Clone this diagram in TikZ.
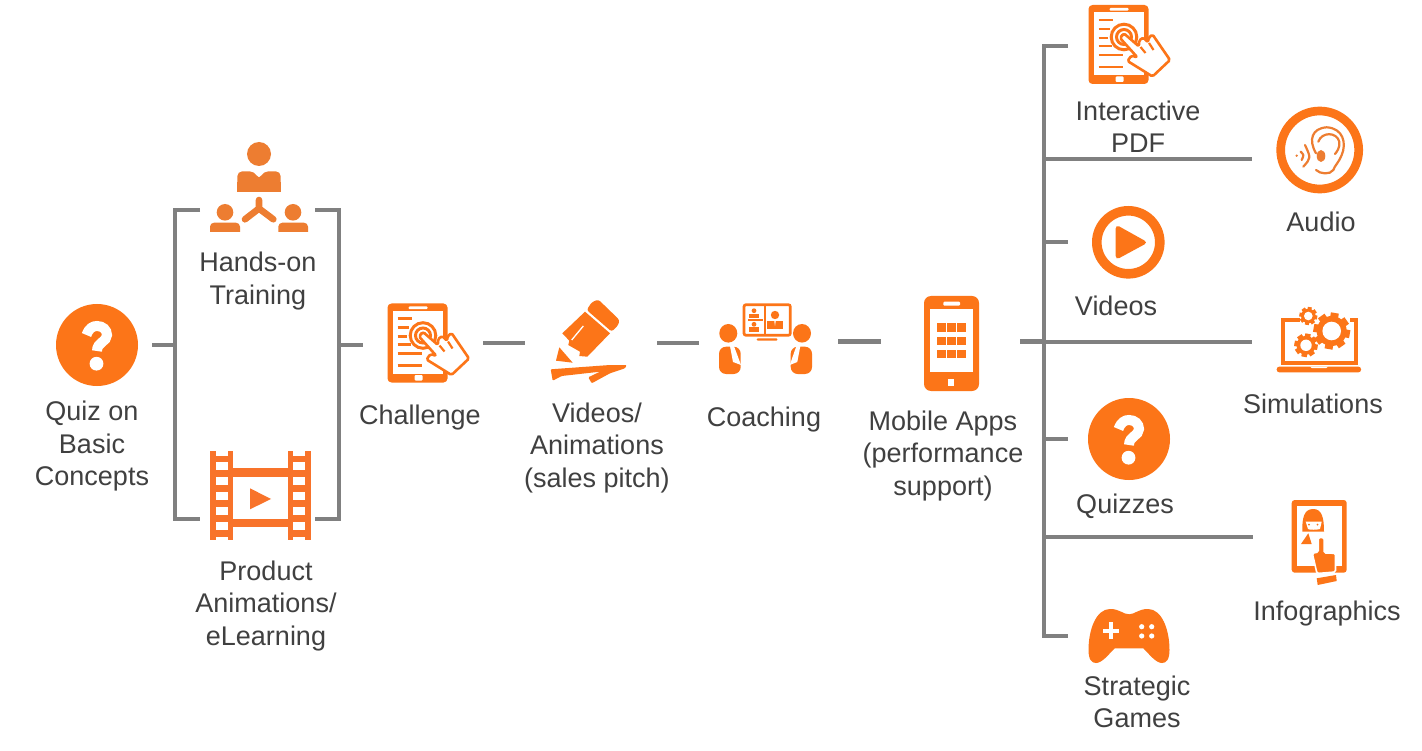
\documentclass[tikz,border=0pt]{standalone}
\usepackage{fontspec}
\setmainfont{Liberation Sans}
\definecolor{iconorange}{HTML}{FC7518}
\definecolor{softorange}{HTML}{ED7D31}
\definecolor{filmorange}{HTML}{F8732A}
\definecolor{linegray}{HTML}{808080}
\definecolor{labelgray}{HTML}{404040}
\newcommand{\tabletHand}[2]{%
\begin{scope}[shift={(#1,#2)}]
\fill[iconorange,rounded corners=4] (0,0) rectangle (60,79);
\fill[white] (5,7.5) rectangle (55,70);
\fill[white,rounded corners=1] (21,3) rectangle (40,5.6);
\fill[white,rounded corners=1] (27,71.5) rectangle (35,77);
\foreach \yy/\xx in {15/24,24/21,33/19,41/23,50/34,62/34}
  \draw[iconorange,line width=2.2] (10,\yy) -- (\xx,\yy);
\draw[iconorange,line width=3] (35.5,32) circle (12.8);
\draw[iconorange,line width=3] (35.5,32) circle (7.5);
\fill[iconorange] (35.5,32) circle (4);
\draw[iconorange,line width=2.6,fill=white,line join=round,rounded corners=1.6]
 (31.5,33) -- (35.5,28.5) -- (50.5,41.5) -- (50.5,35.5) -- (55,32.5) -- (59.5,37.5) -- (60,33) -- (64,29.5)
 -- (81.5,55) -- (64,71.5) -- (39,56) -- (43,50.5) -- (49,52.5) -- cycle;
\draw[iconorange,line width=2.2] (52,42) -- (57,48) (60.5,38) -- (65,45);
\end{scope}}
\newcommand{\qmark}[2]{%
\begin{scope}[shift={(#1,#2)}]
\fill[iconorange] (0,0) circle (41);
\draw[white,line width=10] (-10.5,-10) .. controls (-8,-17) and (-4,-19) .. (0,-19)
 .. controls (6,-19) and (10,-15) .. (10,-10) .. controls (10,-3) and (0,-3) .. (0,6);
\fill[white] (-0.5,18.7) circle (6.9);
\end{scope}}
\tikzset{
 x=1pt,y=-1pt,
 link/.style={draw=linegray,line width=4.8pt,line join=miter},
 iconbox/.style={inner sep=0pt,outer sep=0pt,minimum height=30pt},
 lbl/.style={inner sep=0pt,outer sep=0pt,text=labelgray,align=center,font=\fontsize{27}{32.5}\selectfont},
}
\begin{document}
\begin{tikzpicture}[line cap=butt]
\useasboundingbox (0,0) rectangle (1422,751);
\fill[white] (0,0) rectangle (1422,751);
% invisible icon boxes
\node[iconbox,minimum width=110pt] (quizicon) at (97,345) {};
\node[iconbox,minimum width=115pt] (handsicon) at (257.5,210) {};
\node[iconbox,minimum width=115pt] (filmicon) at (257.5,519) {};
\node[iconbox,minimum width=120pt] (challengeicon) at (423,343) {};
\node[iconbox,minimum width=132pt] (penicon) at (591,343) {};
\node[iconbox,minimum width=139pt] (coachicon) at (768.5,341.5) {};
\node[iconbox,minimum width=139pt] (phoneicon) at (950.5,341.5) {};
\node[iconbox,minimum width=122pt] (pdficon) at (1129,46) {};
\node[iconbox,minimum width=122pt] (playicon) at (1129,242) {};
\node[iconbox,minimum width=122pt] (qzicon) at (1129,439) {};
\node[iconbox,minimum width=122pt] (gameicon) at (1129,636) {};
\node[iconbox,minimum width=136pt] (earicon) at (1320,159) {};
\node[iconbox,minimum width=136pt] (simicon) at (1320,342) {};
\node[iconbox,minimum width=136pt] (infoicon) at (1321,537) {};
\coordinate (lefttop) at (175,210);
\coordinate (leftbot) at (175,519);
\coordinate (leftmid) at (175,345);
\coordinate (righttop) at (339,210);
\coordinate (rightbot) at (339,519);
\coordinate (rightmid) at (339,345);
\coordinate (trunktop) at (1044,46);
\coordinate (trunkbot) at (1044,636);
\coordinate (trunkplay) at (1044,242);
\coordinate (trunkqz) at (1044,439);
\coordinate (trunkear) at (1044,159);
\coordinate (trunksim) at (1044,342);
\coordinate (trunkinfo) at (1044,537);
% connectors
\draw[link] (handsicon.west) -- (lefttop) -- (leftbot) -- (filmicon.west);
\draw[link] (handsicon.east) -- (righttop) -- (rightbot) -- (filmicon.east);
\draw[link] (quizicon.east) -- (leftmid);
\draw[link] (rightmid) -- (rightmid -| challengeicon.west);
\draw[link] (challengeicon.east) -- (penicon.west);
\draw[link] (penicon.east) -- (coachicon.west |- penicon.east);
\draw[link] (coachicon.east) -- (phoneicon.west);
\draw[link] (phoneicon.east) -- (phoneicon.east -| trunksim);
\draw[link] (pdficon.west) -- (trunktop) -- (trunkbot) -- (gameicon.west);
\draw[link] (trunkplay) -- (playicon.west);
\draw[link] (trunkqz) -- (qzicon.west);
\draw[link] (trunkear) -- (earicon.west);
\draw[link] (trunksim) -- (simicon.west);
\draw[link] (trunkinfo) -- (infoicon.west);
% quiz icons
\qmark{97}{345}
\qmark{1129}{439}
% hands-on
\fill[softorange] (259,154) circle (12);
\fill[softorange,rounded corners=5] (237.3,192) -- (237.3,171.3) -- (254.5,171.3) -- (259,180) -- (263.5,171.3) -- (280.7,171.3) -- (280.7,192) -- cycle;
\fill[softorange] (237.3,182) rectangle (280.7,192);
\foreach \hx in {225,293} \fill[softorange] (\hx,212.3) circle (8.3);
\fill[softorange,rounded corners=4] (210,236) -- (210,222.7) -- (240,222.7) -- (240,236) -- cycle;
\fill[softorange,rounded corners=4] (278.3,236) -- (278.3,222.7) -- (308,222.7) -- (308,236) -- cycle;
\fill[white] (205,232) rectangle (313,238);
\draw[softorange,line width=6.6,line cap=round,line join=round] (259,200) -- (259,208.5) (245,219.3) -- (259,208.5) -- (273.3,219.3);
% film
\fill[filmorange] (210,451) rectangle (232.7,540);
\fill[filmorange] (288.3,451) rectangle (310.7,540);
\fill[filmorange] (232.7,468.3) rectangle (288.3,476.7);
\fill[filmorange] (232.7,519.3) rectangle (288.3,527.3);
\foreach \fx in {215.7,293.3}{
 \fill[white] (\fx,451) rectangle ++(12,4.5);
 \foreach \fy in {462.3,476.7,491.7,506.7,521.7}
  \fill[white] (\fx,\fy) rectangle ++(12,7.8);
 \fill[white] (\fx,536.7) rectangle ++(12,3.3);
}
\fill[filmorange] (250,488.3) -- (271,499) -- (250,509.3) -- cycle;
% challenge and interactive pdf
\tabletHand{387.5}{303.5}
\tabletHand{1088.5}{5}
% pencil
\fill[iconorange,rounded corners=2.5] (591.7,302.3) -- (598.3,299.5) -- (619.5,320) -- (618.3,325) -- (611.7,331.7) -- (586.7,310) -- cycle;
\fill[iconorange] (585,311.7) -- (610,333.3) -- (587.3,356.7) -- (579.3,356) -- (580,351.7) -- (568.3,345) -- (569.3,340.7) -- (562.3,333.3) -- cycle;
\draw[white,line width=1.3] (571.7,340) -- (583.3,326);
\fill[iconorange] (559.3,347.3) -- (572.7,362.7) -- (556,360.7) -- cycle;
\fill[iconorange,rounded corners=1] (550.7,369.3) -- (610,365) -- (626.7,365) -- (625,368.3) -- (610,373.3) -- (591.7,383.3) -- (588.3,377.3) -- (600,371.7) -- (561.7,376) -- (552.7,380.7) -- cycle;
% coaching
\draw[iconorange,line width=2.7,rounded corners=2] (744,304.7) rectangle (790.3,335.3);
\fill[iconorange] (764.2,306) rectangle (765.8,334);
\fill[iconorange] (748.3,319.3) rectangle (763.3,320.7);
\fill[iconorange,rounded corners=1] (756.7,338.3) rectangle (777.3,340.7);
\fill[iconorange] (754,310.7) circle (2.4);
\fill[iconorange] (749.3,318.5) rectangle (759.3,314);
\fill[iconorange] (754,324.3) circle (2.4);
\fill[iconorange] (749.3,332.3) rectangle (759.3,327);
\fill[iconorange] (775,315) circle (4.2);
\fill[iconorange] (767.3,329) rectangle (782.7,320.7);
\fill[white] (774.2,320.7) -- (775.8,320.7) -- (775,326) -- cycle;
\fill[iconorange] (728.3,333.3) ellipse (9 and 9.3);
\fill[iconorange,rounded corners=7] (719,346.7) rectangle (740.7,374);
\fill[white] (730,346.2) -- (734,346.2) -- (741,365) -- (733,362) -- cycle;
\fill[iconorange] (802,333.3) ellipse (9 and 9.3);
\fill[iconorange,rounded corners=7] (790.7,346.7) rectangle (812,374);
\fill[white] (800.3,346.2) -- (796.3,346.2) -- (789.8,365) -- (797.3,362) -- cycle;
% phone
\fill[iconorange,rounded corners=7] (924,296) rectangle (979,391);
\fill[white] (930,309.3) rectangle (973.3,372.3);
\fill[white,rounded corners=1] (943.3,301.7) rectangle (960,305.7);
\fill[white] (948.3,379) rectangle (954.3,385.7);
\foreach \gx in {937.3,947.3,957.3}\foreach \gy in {323.3,336.7,350}
 \fill[iconorange] (\gx,\gy) rectangle ++(8.4,8.4);
% audio
\draw[iconorange,line width=8.7] (1319.7,150) circle (39);
\begin{scope}[softorange,line width=2.2,line cap=round]
\draw (1316,153.3) .. controls (1308.3,140) and (1311.7,128.3) .. (1326.7,127.3)
 .. controls (1343.3,128.3) and (1346.7,143.3) .. (1341.7,155)
 .. controls (1338.3,163.3) and (1335,165) .. (1333.3,170)
 .. controls (1330,175) and (1320,174) .. (1316,170);
\draw (1318.3,141.7) .. controls (1321.7,131.7) and (1336.7,131.7) .. (1339.3,141.7)
 .. controls (1340,148.3) and (1336.7,151.7) .. (1335,154);
\draw (1305,145) .. controls (1311,158) .. (1303.3,166.7);
\draw (1300.7,151.7) .. controls (1304,155) .. (1301.7,160);
\fill (1321,156) ellipse (4.3 and 6);
\fill (1296.7,155.7) circle (1.3);
\end{scope}
% play
\draw[iconorange,line width=9.6] (1128.3,242.3) circle (31.5);
\fill[iconorange,rounded corners=4] (1115.7,224.5) -- (1148,242.5) -- (1115.7,260) -- cycle;
% simulations
\draw[iconorange,line width=3.7] (1300,320) -- (1282.7,320) -- (1282.7,362.7) -- (1356,362.7) -- (1356,320) -- (1350,320);
\fill[iconorange,rounded corners=2.5] (1276.7,366.7) rectangle (1361,372.3);
\fill[white] (1310,366.6) -- (1328,366.6) -- (1326,368.2) -- (1312,368.2) -- cycle;
\foreach \gcx/\gcy/\gro/\grr/\grh/\gw in {1331.7/331/18.3/15/9.3/8,1306/345.3/11.7/9.5/5.7/5.5,1308.3/316/9/7.3/4.3/4}{
 \fill[iconorange] (\gcx,\gcy) circle (\grr);
 \foreach \ga in {0,45,...,315}
  \draw[iconorange,line width=\gw] (\gcx,\gcy) ++(\ga+10:\grr-1) -- ++(\ga+10:\gro-\grr+1);
 \fill[white] (\gcx,\gcy) circle (\grh);
}
% infographics
\fill[iconorange,rounded corners=3] (1291.7,500) rectangle (1346.7,572.7);
\fill[white] (1296.7,505.7) rectangle (1341.7,566);
\fill[iconorange] (1302.3,531.7) .. controls (1302,518) and (1304,509) .. (1313.3,509) .. controls (1322,509) and (1324,518) .. (1324,531.7) -- cycle;
\fill[white] (1305.7,521.7) -- (1321.7,521.7) -- (1320,529) .. controls (1317,530) and (1309,530) .. (1308,529) -- cycle;
\fill[iconorange] (1309,524.7) circle (1) (1317.5,524.7) circle (1);
\fill[iconorange] (1308.3,533.3) -- (1301,544) -- (1311.7,544) -- cycle;
\draw[white,line width=1.6,fill=iconorange,rounded corners=1.5] (1318.3,537.5) -- (1324,537.5) -- (1324.3,553) -- (1335.5,553.3) -- (1335.5,572) -- (1317,573.5) -- (1312.3,553.3) -- (1318.3,552) -- cycle;
\fill[white] (1312,574.5) rectangle (1340,579);
\fill[iconorange] (1316.7,578.3) -- (1336,575) -- (1336.7,581) -- (1317.7,585) -- cycle;
% gamepad
\fill[iconorange] (1129,614.3) .. controls (1135,614.3) and (1138,609) .. (1148,609)
 .. controls (1162,609) and (1169.5,630) .. (1169.5,650)
 .. controls (1169.5,660) and (1166,663) .. (1162,663)
 .. controls (1156,663) and (1150,655) .. (1143.3,648.3)
 -- (1114.7,648.3)
 .. controls (1108,655) and (1102,663) .. (1096,663)
 .. controls (1092,663) and (1088.5,660) .. (1088.5,650)
 .. controls (1088.5,630) and (1096,609) .. (1110,609)
 .. controls (1120,609) and (1123,614.3) .. (1129,614.3) -- cycle;
\fill[white] (1102.7,628.5) rectangle (1119.3,632.9);
\fill[white] (1108.8,622.4) rectangle (1113.2,639);
\foreach \dx in {1141.7,1151.7}\foreach \dy in {626.7,636}
 \fill[white] (\dx,\dy) circle (2.6);
% labels
\node[lbl] (tquiz) at (92,446.8) {\strut Quiz on\\\strut Basic\\\strut Concepts};
\node[lbl] (thands) at (258,281.3) {\strut Hands-on\\\strut Training};
\node[lbl] (tfilm) at (266,606.3) {\strut Product\\\strut Animations/\\\strut eLearning};
\node[lbl] (tchallenge) at (420,418.3) {\strut Challenge};
\node[lbl] (tpen) at (597,448.3) {\strut Videos/\\\strut Animations\\\strut (sales pitch)};
\node[lbl] (tcoach) at (764,420.3) {\strut Coaching};
\node[lbl] (tphone) at (943,456.3) {\strut Mobile Apps\\\strut (performance\\\strut support)};
\node[lbl] (tpdf) at (1138,129.8) {\strut Interactive\\\strut PDF};
\node[lbl] (tear) at (1321,225.3) {\strut Audio};
\node[lbl] (tplay) at (1116,309.3) {\strut Videos};
\node[lbl] (tsim) at (1313,407.3) {\strut Simulations};
\node[lbl] (tqz) at (1125,507.3) {\strut Quizzes};
\node[lbl] (tinfo) at (1327,614.3) {\strut Infographics};
\node[lbl] (tgame) at (1137,704.8) {\strut Strategic\\\strut Games};
\end{tikzpicture}
\end{document}
